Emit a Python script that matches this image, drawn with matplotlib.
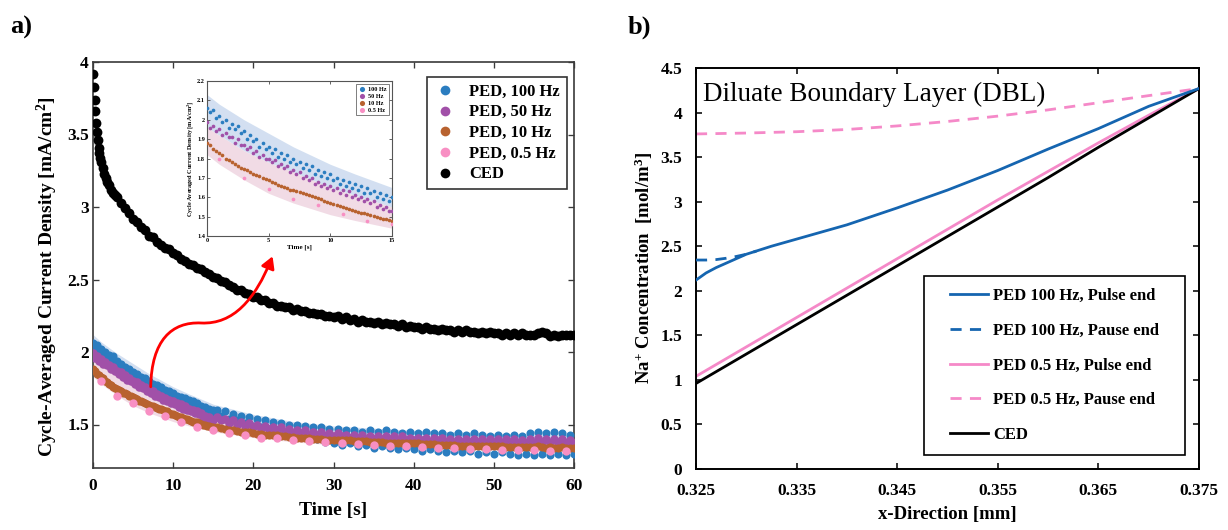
import numpy as np
import matplotlib
matplotlib.use('Agg')
import matplotlib.pyplot as plt
from matplotlib.path import Path
from matplotlib.patches import FancyArrowPatch, Rectangle
from matplotlib.lines import Line2D
from matplotlib.ticker import FormatStrFormatter

plt.rcParams['font.family'] = ['Liberation Serif', 'DejaVu Serif']
plt.rcParams['font.weight'] = 'bold'
plt.rcParams['mathtext.fontset'] = 'custom'
plt.rcParams['mathtext.rm'] = 'Liberation Serif:bold'
plt.rcParams['mathtext.bf'] = 'Liberation Serif:bold'
plt.rcParams['mathtext.it'] = 'Liberation Serif:bold:italic'

# ---------- panel a: cycle-averaged current density ----------
# fine sampling 0..15 s (every 0.25 s)
ped100_fine = [2.06, 2.04, 2.05, 2.01, 2.02, 1.99, 2.00, 1.96, 1.98, 1.95, 1.97, 1.93,
               1.94, 1.90, 1.92, 1.89, 1.90, 1.86, 1.88, 1.85, 1.86, 1.83, 1.85, 1.81,
               1.83, 1.80, 1.82, 1.78, 1.80, 1.77, 1.78, 1.75, 1.77, 1.74, 1.76, 1.72,
               1.74, 1.71, 1.73, 1.70, 1.72, 1.69, 1.70, 1.67, 1.69, 1.66, 1.68, 1.65,
               1.67, 1.64, 1.66, 1.62, 1.65, 1.62, 1.63, 1.60, 1.62, 1.59, 1.61, 1.58, 1.60]
ped50_fine = [1.99, 1.96, 1.97, 1.94, 1.95, 1.92, 1.93, 1.91, 1.91, 1.88, 1.90, 1.87,
              1.87, 1.85, 1.86, 1.83, 1.84, 1.81, 1.82, 1.80, 1.80, 1.78, 1.79, 1.76,
              1.77, 1.75, 1.76, 1.73, 1.74, 1.72, 1.73, 1.70, 1.71, 1.69, 1.70, 1.67,
              1.68, 1.66, 1.67, 1.65, 1.66, 1.64, 1.65, 1.62, 1.64, 1.61, 1.63, 1.60,
              1.61, 1.59, 1.60, 1.58, 1.59, 1.57, 1.58, 1.55, 1.56, 1.54, 1.55, 1.53, 1.53]
ped10_fine = [1.88, 1.87, 1.85, 1.84, 1.83, 1.82, 1.80, 1.79, 1.78, 1.77, 1.76, 1.75,
              1.745, 1.74, 1.73, 1.72, 1.715, 1.71, 1.70, 1.695, 1.69, 1.68, 1.675, 1.665,
              1.66, 1.655, 1.65, 1.64, 1.635, 1.63, 1.625, 1.62, 1.615, 1.61, 1.605, 1.60,
              1.595, 1.59, 1.58, 1.575, 1.57, 1.565, 1.56, 1.555, 1.55, 1.545, 1.54, 1.535,
              1.53, 1.525, 1.52, 1.52, 1.515, 1.51, 1.505, 1.50, 1.495, 1.49, 1.49, 1.485, 1.48]

# 15.5..60 s (every 0.5 s)
ped100_late = [1.60, 1.56, 1.59, 1.54, 1.57, 1.53, 1.56, 1.51, 1.55, 1.49,
               1.54, 1.48, 1.53, 1.47, 1.52, 1.46, 1.51, 1.44, 1.50, 1.43,
               1.50, 1.42, 1.49, 1.40, 1.48, 1.40, 1.48, 1.38, 1.47, 1.37,
               1.47, 1.36, 1.46, 1.37, 1.46, 1.35, 1.45, 1.36, 1.46, 1.34,
               1.45, 1.35, 1.46, 1.34, 1.45, 1.33, 1.44, 1.34, 1.45, 1.33,
               1.44, 1.32, 1.45, 1.33, 1.44, 1.32, 1.44, 1.31, 1.43, 1.32,
               1.44, 1.31, 1.43, 1.32, 1.44, 1.30, 1.43, 1.31, 1.42, 1.30,
               1.43, 1.31, 1.42, 1.30, 1.43, 1.29, 1.42, 1.30, 1.44, 1.29,
               1.45, 1.30, 1.44, 1.29, 1.45, 1.30, 1.44, 1.29, 1.43, 1.30]
ped50_late = [1.55, 1.53, 1.54, 1.51, 1.53, 1.50, 1.52, 1.49, 1.51, 1.48,
              1.50, 1.47, 1.49, 1.47, 1.48, 1.46, 1.48, 1.45, 1.47, 1.44,
              1.46, 1.44, 1.46, 1.43, 1.45, 1.43, 1.45, 1.42, 1.44, 1.42,
              1.44, 1.42, 1.43, 1.41, 1.43, 1.41, 1.43, 1.40, 1.42, 1.40,
              1.42, 1.40, 1.42, 1.40, 1.42, 1.39, 1.42, 1.39, 1.41, 1.39,
              1.41, 1.39, 1.41, 1.38, 1.41, 1.39, 1.41, 1.38, 1.40, 1.38,
              1.40, 1.38, 1.40, 1.38, 1.40, 1.38, 1.40, 1.37, 1.40, 1.38,
              1.40, 1.37, 1.40, 1.38, 1.40, 1.37, 1.39, 1.37, 1.40, 1.37,
              1.41, 1.38, 1.40, 1.37, 1.40, 1.38, 1.40, 1.37, 1.39, 1.37]
ped10_late = [1.48, 1.475, 1.47, 1.465, 1.46, 1.455, 1.45, 1.45, 1.445, 1.44,
              1.435, 1.435, 1.43, 1.43, 1.425, 1.425, 1.42, 1.42, 1.415, 1.415,
              1.41, 1.41, 1.405, 1.405, 1.40, 1.40, 1.40, 1.395, 1.395, 1.395,
              1.39, 1.39, 1.39, 1.39, 1.385, 1.385, 1.385, 1.385, 1.38, 1.38,
              1.38, 1.38, 1.375, 1.375, 1.375, 1.375, 1.37, 1.37, 1.37, 1.37,
              1.37, 1.365, 1.365, 1.365, 1.365, 1.36, 1.36, 1.36, 1.36, 1.36,
              1.355, 1.355, 1.355, 1.355, 1.355, 1.35, 1.35, 1.35, 1.35, 1.35,
              1.35, 1.35, 1.345, 1.345, 1.345, 1.345, 1.345, 1.345, 1.345, 1.345,
              1.35, 1.345, 1.34, 1.345, 1.34, 1.34, 1.345, 1.34, 1.34, 1.34]

t_pink = [1, 3, 5, 7, 9, 11, 13, 15, 17, 19, 21, 23, 25, 27, 29,
          31, 33, 35, 37, 39, 41, 43, 45, 47, 49, 51, 53, 55, 57, 59]
ped05 = [1.80, 1.70, 1.645, 1.59, 1.56, 1.515, 1.48, 1.46, 1.44, 1.43, 1.41, 1.405, 1.395, 1.387, 1.38,
         1.373, 1.365, 1.36, 1.355, 1.35, 1.345, 1.34, 1.337, 1.333, 1.33, 1.327, 1.325, 1.322, 1.32, 1.318]

# CED: steep start, then every 0.5 s from 3 s
t_ced_start = [0, 0.1, 0.2, 0.3, 0.4, 0.5, 0.6, 0.7, 0.8, 0.9, 1.0, 1.2, 1.4, 1.6, 1.8, 2.0, 2.25, 2.5, 2.75]
ced_start = [3.92, 3.83, 3.74, 3.66, 3.58, 3.52, 3.46, 3.41, 3.37, 3.34, 3.31, 3.27, 3.23, 3.20,
             3.17, 3.15, 3.12, 3.10, 3.08]
ced = [3.07, 3.03, 2.99, 2.96, 2.92, 2.90, 2.86, 2.84,
       2.80, 2.79, 2.76, 2.74, 2.72, 2.71, 2.68, 2.67, 2.64, 2.63, 2.61, 2.60, 2.58, 2.57,
       2.55, 2.54, 2.52, 2.51, 2.49, 2.48, 2.46, 2.45, 2.43, 2.43, 2.41, 2.40, 2.38, 2.38,
       2.36, 2.36, 2.34, 2.34, 2.32, 2.32, 2.31, 2.31, 2.29, 2.30, 2.28, 2.28, 2.27, 2.27,
       2.26, 2.26, 2.25, 2.25, 2.24, 2.25, 2.23, 2.24, 2.22, 2.23, 2.21, 2.22, 2.21, 2.21,
       2.20, 2.21, 2.19, 2.20, 2.19, 2.19, 2.18, 2.19, 2.17, 2.18, 2.17, 2.17, 2.16, 2.17,
       2.16, 2.16, 2.15, 2.16, 2.15, 2.15, 2.14, 2.15, 2.14, 2.15, 2.14, 2.14, 2.13, 2.14,
       2.13, 2.14, 2.13, 2.13, 2.12, 2.13, 2.12, 2.13, 2.12, 2.13, 2.12, 2.12, 2.12, 2.13,
       2.14, 2.13, 2.11, 2.12, 2.11, 2.12, 2.12, 2.12, 2.12]

# fitted curve / confidence bands
t_fit = [0, 1, 2, 3, 5, 7, 10, 12, 15, 20, 25, 30, 40, 50, 60]
ced_fit = [3.50, 3.30, 3.17, 3.07, 2.93, 2.81, 2.68, 2.61, 2.52, 2.38, 2.30, 2.24, 2.17, 2.14, 2.12]
band_hi = [2.12, 2.07, 2.03, 1.99, 1.92, 1.85, 1.76, 1.71, 1.64, 1.57, 1.52, 1.49, 1.46, 1.44, 1.43]
band_mid = [1.96, 1.92, 1.88, 1.84, 1.78, 1.73, 1.65, 1.61, 1.55, 1.49, 1.45, 1.43, 1.40, 1.38, 1.37]
band_lo = [1.83, 1.78, 1.74, 1.70, 1.63, 1.58, 1.52, 1.49, 1.45, 1.41, 1.38, 1.36, 1.34, 1.32, 1.31]

# ---------- panel b: DBL concentration profiles ----------
x_blue = [0.325, 0.326, 0.327, 0.328, 0.329, 0.330, 0.3325, 0.335, 0.340, 0.345,
          0.350, 0.355, 0.360, 0.365, 0.370, 0.375]
ped100_pulse = [2.12, 2.20, 2.26, 2.31, 2.36, 2.41, 2.50, 2.58, 2.74, 2.93,
                3.13, 3.35, 3.59, 3.82, 4.07, 4.27]
x_blue_pause = [0.325, 0.326, 0.327, 0.328, 0.329, 0.330, 0.331]
ped100_pause = [2.345, 2.345, 2.35, 2.365, 2.385, 2.41, 2.445]
x_dbl = [0.325, 0.330, 0.335, 0.340, 0.345, 0.350, 0.355, 0.360, 0.365, 0.370, 0.375]
ped05_pulse = [1.04, 1.37, 1.70, 2.03, 2.36, 2.69, 3.02, 3.34, 3.66, 3.97, 4.27]
ped05_pause = [3.76, 3.77, 3.785, 3.81, 3.85, 3.90, 3.96, 4.03, 4.11, 4.19, 4.27]
ced_profile = [0.96, 1.29, 1.62, 1.95, 2.28, 2.61, 2.94, 3.27, 3.61, 3.94, 4.27]

c_blue = '#2b7dc0'
c_purple = '#a150a8'
c_brown = '#b8622f'
c_pink = '#f88fc3'
c_line_blue = '#1565b0'
c_line_pink = '#f589c8'

t_fine = np.arange(len(ped100_fine)) * 0.25
t_late = 15.5 + np.arange(len(ped100_late)) * 0.5
t_ced = 3.0 + np.arange(len(ced)) * 0.5

W, H = 1228, 530
fig = plt.figure(figsize=(W / 100, H / 100), dpi=100)


def px_axes(l, t, r, b):
    return fig.add_axes([l / W, 1 - b / H, (r - l) / W, (b - t) / H])


def matlab_style(ax, lsize, xpad, ypad, edge, lw=1.2, length=4):
    for s in ax.spines.values():
        s.set_linewidth(lw)
        s.set_color(edge)
    ax.tick_params(direction='in', top=True, right=True, length=length, width=lw * 0.8,
                   labelsize=lsize, color=edge, labelcolor='black')
    ax.tick_params(axis='x', pad=xpad)
    ax.tick_params(axis='y', pad=ypad)


ax = px_axes(93, 62, 574, 468)
ax.fill_between(t_fit, band_mid, band_hi, color='#c8d8ee', alpha=0.8, lw=0, zorder=1)
ax.fill_between(t_fit, band_lo, band_mid, color='#eed3df', alpha=0.8, lw=0, zorder=1)
ax.plot(t_fit, ced_fit, color='#a8a8a8', lw=1.6, zorder=2)
for tt, yy in [(t_fine, ped100_fine), (t_late, ped100_late)]:
    ax.scatter(tt, yy, s=34, color=c_blue, lw=0, zorder=3)
for tt, yy in [(t_fine, ped50_fine), (t_late, ped50_late)]:
    ax.scatter(tt, yy, s=38, color=c_purple, lw=0, zorder=4)
for tt, yy in [(t_fine, ped10_fine), (t_late, ped10_late)]:
    ax.scatter(tt, yy, s=34, color=c_brown, lw=0, zorder=5)
ax.scatter(t_pink, ped05, s=36, color=c_pink, lw=0, zorder=6)
ax.scatter(t_ced_start, ced_start, s=50, color='black', lw=0, zorder=6)
ax.scatter(t_ced, ced, s=50, color='black', lw=0, zorder=6)

ax.set_xlim(0, 60)
ax.set_ylim(1.2, 4)
ax.set_xticks(np.arange(0, 61, 10))
ax.set_yticks(np.arange(1.5, 4.01, 0.5))
ax.yaxis.set_major_formatter(FormatStrFormatter('%g'))
matlab_style(ax, 12.5, 7, 3, '#3a3a3a')
ax.set_xlabel('Time [s]', fontsize=14, fontweight='bold')
ax.xaxis.set_label_coords(0.5, -0.083)
ax.set_ylabel('Cycle-Averaged Current Density [mA/cm$^{\\mathbf{2}}$]', fontsize=14, fontweight='bold')
ax.yaxis.set_label_coords(-0.068, 0.47)

handles = [Line2D([], [], ls='', marker='o', ms=7, color=c, mec='none')
           for c in [c_blue, c_purple, c_brown, c_pink, 'black']]
labels = ['PED, 100 Hz', 'PED, 50 Hz', 'PED, 10 Hz', 'PED, 0.5 Hz', 'CED']
leg = ax.legend(handles, labels, loc='upper right', bbox_to_anchor=(0.985, 0.963),
                fontsize=12, frameon=True, fancybox=False, edgecolor='black',
                handlelength=1.4, handletextpad=0.75, labelspacing=0.28, borderpad=0.4,
                borderaxespad=0)
leg.get_frame().set_linewidth(1.2)

# red arrow towards the inset
verts = [(7.2, 1.76), (7.3, 2.08), (9.8, 2.21), (13.5, 2.20),
         (17.5, 2.19), (20.2, 2.36), (22.4, 2.66)]
codes = [Path.MOVETO] + [Path.CURVE4] * 6
arrow = FancyArrowPatch(path=Path(verts, codes), arrowstyle='-|>,head_length=7,head_width=4',
                        color='red', lw=2, zorder=8)
ax.add_patch(arrow)

# inset
ins = px_axes(207, 81, 392, 236)
ins.fill_between(t_fit, band_mid, [v + 0.01 for v in band_hi], color='#c8d8ee', alpha=0.8, lw=0)
ins.fill_between(t_fit, [v - 0.01 for v in band_lo], band_mid, color='#eed3df', alpha=0.8, lw=0)
ins.scatter(t_fine, ped100_fine, s=7, color=c_blue, lw=0, label='100 Hz', zorder=3)
ins.scatter(t_fine, ped50_fine, s=7, color=c_purple, lw=0, label='50 Hz', zorder=4)
ins.scatter(t_fine, ped10_fine, s=7, color=c_brown, lw=0, label='10 Hz', zorder=5)
ins.scatter(t_pink, ped05, s=7, color=c_pink, lw=0, label='0.5 Hz', zorder=6)
ins.set_xlim(0, 15)
ins.set_ylim(1.4, 2.2)
ins.set_xticks([0, 5, 10, 15])
ins.set_yticks(np.arange(1.4, 2.21, 0.1))
ins.yaxis.set_major_formatter(FormatStrFormatter('%g'))
matlab_style(ins, 4.5, 1.5, 1.5, '#555555', lw=0.8, length=2)
ins.set_xlabel('Time [s]', fontsize=5, fontweight='bold', labelpad=1)
ins.set_ylabel('Cycle Averaged Current Density [mA/cm$^{\\mathbf{2}}$]', fontsize=4.5,
               fontweight='bold', labelpad=1)
il = ins.legend(loc='upper right', fontsize=4.5, frameon=True, fancybox=False, edgecolor='#444444',
                markerscale=1.4, handletextpad=0.3, labelspacing=0.25, borderpad=0.4,
                handlelength=1.2)
il.get_frame().set_linewidth(0.6)

# ---------- panel b ----------
bx = px_axes(696, 68, 1199, 469)
bx.plot(x_blue, ped100_pulse, color=c_line_blue, lw=2.0, label='PED 100 Hz, Pulse end', zorder=3)
bx.plot(x_blue_pause, ped100_pause, color=c_line_blue, lw=2.0, ls=(0, (4, 3)),
        label='PED 100 Hz, Pause end', zorder=3)
bx.plot(x_dbl, ped05_pulse, color=c_line_pink, lw=2.0, label='PED 0.5 Hz, Pulse end', zorder=2)
bx.plot(x_dbl, ped05_pause, color=c_line_pink, lw=2.0, ls=(0, (4, 3)),
        label='PED 0.5 Hz, Pause end', zorder=2)
bx.plot(x_dbl, ced_profile, color='black', lw=2.0, label='CED', zorder=2)
bx.set_xlim(0.325, 0.375)
bx.set_ylim(0, 4.5)
bx.set_xticks(np.arange(0.325, 0.3751, 0.01))
bx.xaxis.set_major_formatter(FormatStrFormatter('%.3f'))
bx.set_yticks(np.arange(0, 4.51, 0.5))
bx.yaxis.set_major_formatter(FormatStrFormatter('%g'))
matlab_style(bx, 12.5, 10, 10, 'black', lw=1.4)
bx.set_xlabel('x-Direction [mm]', fontsize=13.5, fontweight='bold')
bx.xaxis.set_label_coords(0.5, -0.092)
bx.set_ylabel('Na$^{\\mathbf{+}}$ Concentration  [mol/m$^{\\mathbf{3}}$]', fontsize=13.5,
              fontweight='bold')
bx.yaxis.set_label_coords(-0.082, 0.5)
bx.text(0.014, 0.935, 'Diluate Boundary Layer (DBL)', transform=bx.transAxes,
        fontsize=19.5, fontweight='normal', va='center', ha='left')

# legend box drawn separately (wider side margins than matplotlib's padding)
bx.add_patch(Rectangle((0.4533, 0.0349), 0.5189, 0.4464, transform=bx.transAxes,
                       facecolor='white', edgecolor='black', lw=1.2, zorder=5))
lb = bx.legend(loc='center', bbox_to_anchor=(0.7127, 0.258), fontsize=12, frameon=False,
               handlelength=2.3, handletextpad=0.3, labelspacing=1.12, borderpad=0,
               borderaxespad=0)
lb.set_zorder(6)

fig.text(10 / W, 1 - 27 / H, 'a)', fontsize=19, fontweight='bold', va='center', ha='left')
fig.text(628 / W, 1 - 27 / H, 'b)', fontsize=19, fontweight='bold', va='center', ha='left')

fig.savefig('out.png', dpi=100)
